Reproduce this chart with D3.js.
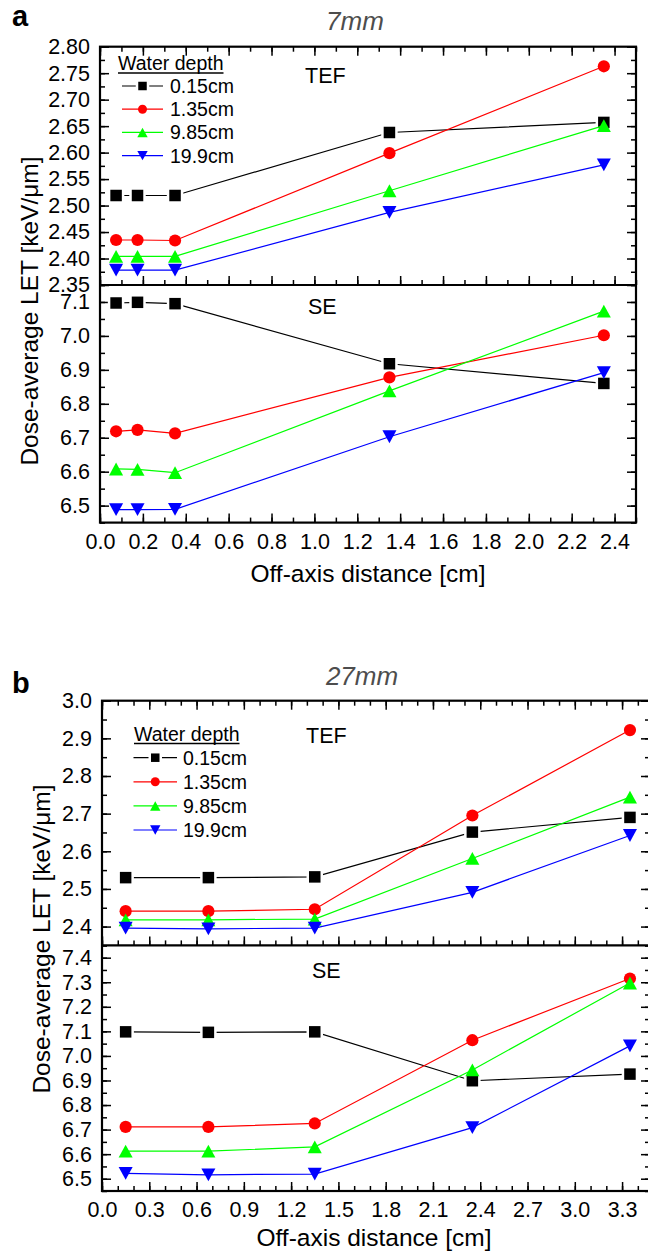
<!DOCTYPE html>
<html><head><meta charset="utf-8">
<script src="https://cdn.jsdelivr.net/npm/d3@7"></script>
<style>
html,body{margin:0;padding:0;background:#fff;}
svg{display:block;}
text{font-family:"Liberation Sans",Arial,Helvetica,sans-serif;fill:#000;}
</style></head>
<body><svg id="chart" width="648" height="1257"></svg>
<script>
// ---------------- DATA ----------------
const seriesNames = ["0.15cm", "1.35cm", "9.85cm", "19.9cm"];
const seriesColors = ["#000000", "#ff0000", "#00ff00", "#0000ff"];
const seriesShapes = ["square", "circle", "triUp", "triDown"];

// Panel a (7mm)
const xA = [0.075, 0.175, 0.35, 1.35, 2.35];
const aTef015 = [2.519, 2.519, 2.519, 2.638, 2.657];
const aTef135 = [2.435, 2.435, 2.434, 2.599, 2.763];
const aTef985 = [2.404, 2.404, 2.404, 2.528, 2.651];
const aTef199 = [2.378, 2.378, 2.378, 2.487, 2.577];
const aSe015 = [7.097, 7.099, 7.095, 6.918, 6.860];
const aSe135 = [6.719, 6.723, 6.713, 6.878, 7.002];
const aSe985 = [6.608, 6.607, 6.597, 6.838, 7.073];
const aSe199 = [6.488, 6.488, 6.489, 6.703, 6.892];

// Panel b (27mm)
const xB = [0.15, 0.675, 1.35, 2.35, 3.35];
const bTef015 = [2.530, 2.530, 2.532, 2.651, 2.690];
const bTef135 = [2.441, 2.441, 2.446, 2.695, 2.922];
const bTef985 = [2.418, 2.418, 2.420, 2.581, 2.744];
const bTef199 = [2.396, 2.394, 2.396, 2.491, 2.642];
const bSe015 = [7.098, 7.096, 7.098, 6.899, 6.926];
const bSe135 = [6.711, 6.711, 6.725, 7.064, 7.315];
const bSe985 = [6.612, 6.612, 6.630, 6.943, 7.297];
const bSe199 = [6.522, 6.516, 6.519, 6.708, 7.041];

// Tick values / labels
const aXTicks = [0.0, 0.2, 0.4, 0.6, 0.8, 1.0, 1.2, 1.4, 1.6, 1.8, 2.0, 2.2, 2.4];
const bXTicks = [0.0, 0.3, 0.6, 0.9, 1.2, 1.5, 1.8, 2.1, 2.4, 2.7, 3.0, 3.3];
const aTefTicks = [2.35, 2.40, 2.45, 2.50, 2.55, 2.60, 2.65, 2.70, 2.75, 2.80];
const aSeTicks = [6.5, 6.6, 6.7, 6.8, 6.9, 7.0, 7.1];
const bTefTicks = [2.4, 2.5, 2.6, 2.7, 2.8, 2.9, 3.0];
const bSeTicks = [6.5, 6.6, 6.7, 6.8, 6.9, 7.0, 7.1, 7.2, 7.3, 7.4];

const panelLetters = ["a", "b"];
const panelTitles = ["7mm", "27mm"];
const subLabels = ["TEF", "SE"];
const legendTitle = "Water depth";
const xLabel = "Off-axis distance [cm]";
const yLabel = "Dose-average LET [keV/\u03bcm]";

// ---------------- DRAW ----------------
const svg = d3.select("#chart");
const FONT_TICK = 21.5, FONT_LABEL = 24.5, FONT_LEG = 19.5;
const MAJ = 9, MIN = 5;

function shapePath(shape, size) {
  const s = size;
  if (shape === "square") return `M${-s/2},${-s/2}h${s}v${s}h${-s}Z`;
  if (shape === "circle") { const r = s/2; return `M${-r},0a${r},${r} 0 1,0 ${2*r},0a${r},${r} 0 1,0 ${-2*r},0Z`; }
  const w = s * 1.15, h = s * 1.05;
  if (shape === "triUp") return `M0,${-h/2}L${w/2},${h/2}L${-w/2},${h/2}Z`;
  return `M0,${h/2}L${w/2},${-h/2}L${-w/2},${-h/2}Z`;
}
function markerSize(shape, big) {
  if (shape === "square") return big ? 11.5 : 8.5;
  if (shape === "circle") return big ? 12.2 : 9;
  return big ? 12.2 : 9;
}
function minorVals(domain, step) {
  const out = [];
  const n = Math.round((domain[1] - domain[0]) / step);
  for (let i = 0; i <= n; i++) out.push(+(domain[0] + i * step).toFixed(4));
  return out;
}

function drawPanel(cfg) {
  const g = svg.append("g");
  const x = d3.scaleLinear().domain(cfg.xDomain).range([cfg.left, cfg.right]);
  const yT = d3.scaleLinear().domain(cfg.tefDomain).range([cfg.mid, cfg.top]);
  const yS = d3.scaleLinear().domain(cfg.seDomain).range([cfg.bottom, cfg.mid]);
  const xMinor = minorVals(cfg.xDomain, 0.1).filter(v => v <= cfg.xDomain[1]);

  function tickStyle(sel) {
    sel.select(".domain").remove();
    sel.selectAll(".tick line").attr("stroke", "#000").attr("stroke-width", 1.5);
    sel.selectAll(".tick text").attr("font-size", FONT_TICK).attr("fill", "#000")
      .style("font-family", '"Liberation Sans",Arial,sans-serif');
  }
  function addAxis(axis, tx, ty) {
    g.append("g").attr("transform", `translate(${tx},${ty})`).call(axis).call(tickStyle);
  }

  // X axes: bottom (with labels), divider ticks up into TEF, top ticks down
  addAxis(d3.axisBottom(x).tickValues(xMinor).tickSize(-MIN).tickFormat(""), 0, cfg.bottom);
  addAxis(d3.axisBottom(x).tickValues(cfg.xTicks).tickSize(-MAJ).tickPadding(11).tickFormat(d3.format(".1f")), 0, cfg.bottom);
  addAxis(d3.axisBottom(x).tickValues(xMinor).tickSize(-MIN).tickFormat(""), 0, cfg.mid);
  addAxis(d3.axisBottom(x).tickValues(cfg.xTicks).tickSize(-MAJ).tickFormat(""), 0, cfg.mid);
  addAxis(d3.axisTop(x).tickValues(xMinor).tickSize(-MIN).tickFormat(""), 0, cfg.top);
  addAxis(d3.axisTop(x).tickValues(cfg.xTicks).tickSize(-MAJ).tickFormat(""), 0, cfg.top);

  // Y axes
  [[yT, cfg.tefTicks, cfg.tefFmt, cfg.tefMinor, cfg.tefDomain, true],
   [yS, cfg.seTicks, cfg.seFmt, cfg.seMinor, cfg.seDomain, false]].forEach(([ys, ticks, fmt, mstep, dom, isTef]) => {
    const minors = minorVals(dom, mstep);
    let labelTicks = ticks;
    addAxis(d3.axisLeft(ys).tickValues(minors).tickSize(-MIN).tickFormat(""), cfg.left, 0);
    addAxis(d3.axisLeft(ys).tickValues(labelTicks).tickSize(-MAJ).tickPadding(10).tickFormat(d3.format(fmt)), cfg.left, 0);
    addAxis(d3.axisRight(ys).tickValues(minors).tickSize(-MIN).tickFormat(""), cfg.right, 0);
    addAxis(d3.axisRight(ys).tickValues(ticks).tickSize(-MAJ).tickFormat(""), cfg.right, 0);
  });

  // Frame
  g.append("rect").attr("x", cfg.left).attr("y", cfg.top)
    .attr("width", cfg.right - cfg.left).attr("height", cfg.bottom - cfg.top)
    .attr("fill", "none").attr("stroke", "#000").attr("stroke-width", 2.2);
  g.append("line").attr("x1", cfg.left).attr("x2", cfg.right).attr("y1", cfg.mid).attr("y2", cfg.mid)
    .attr("stroke", "#000").attr("stroke-width", 2.2);

  // Data
  const line = ys => d3.line().x(d => x(d[0])).y(d => ys(d[1]));
  [[yT, cfg.tef], [yS, cfg.se]].forEach(([ys, sets]) => {
    sets.forEach((vals, i) => {
      const pts = cfg.xs.map((xv, j) => [xv, vals[j]]);
      g.append("path").datum(pts).attr("d", line(ys)).attr("fill", "none")
        .attr("stroke", seriesColors[i]).attr("stroke-width", 1.2);
      g.selectAll(null).data(pts).enter().append("path")
        .attr("transform", d => `translate(${x(d[0])},${ys(d[1])})`)
        .attr("d", shapePath(seriesShapes[i], markerSize(seriesShapes[i], true)))
        .attr("fill", seriesColors[i])
        .attr("stroke", i === 0 ? "#fff" : "none").attr("stroke-width", i === 0 ? 5 : 0)
        .style("paint-order", "stroke");
    });
  });

  // Sub-panel labels
  g.append("text").attr("x", cfg.tefLabel[0]).attr("y", cfg.tefLabel[1]).attr("font-size", 21.5).text(subLabels[0]);
  g.append("text").attr("x", cfg.seLabel[0]).attr("y", cfg.seLabel[1]).attr("font-size", 21.5).text(subLabels[1]);

  // Legend
  const lt = g.append("text").attr("x", cfg.leg.x).attr("y", cfg.leg.titleY).attr("font-size", FONT_LEG).text(legendTitle);
  const tw = lt.node().getComputedTextLength();
  g.append("line").attr("x1", cfg.leg.x).attr("x2", cfg.leg.x + tw)
    .attr("y1", cfg.leg.titleY + 3).attr("y2", cfg.leg.titleY + 3).attr("stroke", "#000").attr("stroke-width", 1.3);
  seriesNames.forEach((name, i) => {
    const cy = cfg.leg.rowY + i * cfg.leg.rowStep;
    g.append("line").attr("x1", cfg.leg.lineX0).attr("x2", cfg.leg.lineX1).attr("y1", cy).attr("y2", cy)
      .attr("stroke", seriesColors[i]).attr("stroke-width", 1.2);
    g.append("path").attr("transform", `translate(${(cfg.leg.lineX0 + cfg.leg.lineX1) / 2},${cy})`)
      .attr("d", shapePath(seriesShapes[i], markerSize(seriesShapes[i], false)))
      .attr("fill", seriesColors[i])
      .attr("stroke", i === 0 ? "#fff" : "none").attr("stroke-width", i === 0 ? 5 : 0)
      .style("paint-order", "stroke");
    g.append("text").attr("x", cfg.leg.textX).attr("y", cy).attr("dy", "0.36em")
      .attr("font-size", FONT_LEG).text(name);
  });

  // Axis titles
  g.append("text").attr("x", (cfg.left + cfg.right) / 2 + cfg.xLabelDx).attr("y", cfg.xLabelY)
    .attr("text-anchor", "middle").attr("font-size", FONT_LABEL).text(xLabel);
  g.append("text").attr("transform", `translate(${cfg.yLabelX},${cfg.yLabelCY}) rotate(-90)`)
    .attr("text-anchor", "middle").attr("font-size", FONT_LABEL).text(yLabel);

  // Panel title & letter
  g.append("text").attr("x", cfg.titleX).attr("y", cfg.titleY).attr("text-anchor", "middle")
    .attr("font-size", 26).attr("font-style", "italic").style("fill", "#4d4d4d").text(cfg.title);
  g.append("text").attr("x", 12).attr("y", cfg.letterY).attr("font-size", 29)
    .attr("font-weight", "bold").text(cfg.letter);
}

drawPanel({
  letter: panelLetters[0], letterY: 26, title: panelTitles[0], titleX: 355, titleY: 30,
  left: 100, right: 636, top: 46.7, mid: 285, bottom: 522.6,
  xDomain: [0, 2.5], xTicks: aXTicks, xs: xA,
  tefDomain: [2.35, 2.80], tefTicks: aTefTicks, tefFmt: ".2f", tefMinor: 0.025,
  seDomain: [6.45, 7.15], seTicks: aSeTicks, seFmt: ".1f", seMinor: 0.05,
  tef: [aTef015, aTef135, aTef985, aTef199], se: [aSe015, aSe135, aSe985, aSe199],
  tefLabel: [305, 82.7], seLabel: [308, 314],
  leg: { x: 118, titleY: 70, rowY: 86, rowStep: 23.2, lineX0: 122, lineX1: 163, textX: 170 },
  xLabelY: 581.7, xLabelDx: 0, yLabelX: 37.5, yLabelCY: 311
});

drawPanel({
  letter: panelLetters[1], letterY: 693, title: panelTitles[1], titleX: 362, titleY: 685,
  left: 102, right: 650, top: 700.7, mid: 945.4, bottom: 1191,
  xDomain: [0, (650 - 102) / 157.6], xTicks: bXTicks, xs: xB,
  tefDomain: [2.35, 3.0], tefTicks: bTefTicks, tefFmt: ".1f", tefMinor: 0.05,
  seDomain: [6.45, 7.45], seTicks: bSeTicks, seFmt: ".1f", seMinor: 0.05,
  tef: [bTef015, bTef135, bTef985, bTef199], se: [bSe015, bSe135, bSe985, bSe199],
  tefLabel: [306, 743], seLabel: [312, 978],
  leg: { x: 134, titleY: 740.5, rowY: 757.7, rowStep: 24.1, lineX0: 133.5, lineX1: 177, textX: 183 },
  xLabelY: 1246, xLabelDx: -2, yLabelX: 50, yLabelCY: 939
});
</script></body></html>
